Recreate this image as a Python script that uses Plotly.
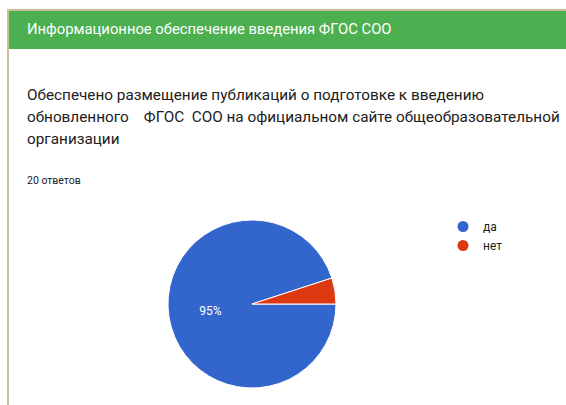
import plotly.graph_objects as go

# ---- data ----
header_title = "Информационное обеспечение введения ФГОС СОО"
question_lines = [
    "Обеспечено размещение публикаций о подготовке к введению",
    "обновленного    ФГОС  СОО на официальном сайте общеобразовательной",
    "организации",
]
responses_label = "20 ответов"
categories = ["да", "нет"]
counts = [19, 1]
slice_colors = ["#3366cc", "#dc3912"]

W, H = 566, 405


def px(x):
    return x / W


def py(y):
    return 1 - y / H


fig = go.Figure()

# pie
cx, cy, r = 252, 304, 84
fig.add_trace(go.Pie(
    labels=categories,
    values=counts,
    sort=False,
    direction="clockwise",
    rotation=90,
    marker=dict(colors=slice_colors, line=dict(color="white", width=1)),
    texttemplate=["%{percent:.0%}", ""],
    textposition="inside",
    insidetextorientation="horizontal",
    insidetextfont=dict(color="white", size=12, family="Roboto"),
    showlegend=False,
    hoverinfo="label+percent",
    domain=dict(x=[px(cx - r), px(cx + r)], y=[py(cy + r), py(cy - r)]),
))

# legend entries with round markers
for cat, col in zip(categories, slice_colors):
    fig.add_trace(go.Scatter(
        x=[None], y=[None], mode="markers", name=cat,
        marker=dict(color=col, size=11, symbol="circle"),
        showlegend=True,
    ))

shapes = [
    # tan frame lines
    dict(type="rect", xref="paper", yref="paper", x0=px(7), x1=px(9), y0=py(H), y1=py(9),
         fillcolor="#c8bf95", line=dict(width=0), layer="below"),
    dict(type="rect", xref="paper", yref="paper", x0=px(7), x1=px(W), y0=py(11), y1=py(9),
         fillcolor="#c8bf95", line=dict(width=0), layer="below"),
    # green header
    dict(type="rect", xref="paper", yref="paper", x0=px(9), x1=px(W), y0=py(49), y1=py(11),
         fillcolor="#4caf50", line=dict(width=0), layer="below"),
]

annotations = [
    dict(text=header_title, x=px(25), y=py(29), xref="paper", yref="paper",
         xanchor="left", yanchor="middle", showarrow=False,
         font=dict(family="Roboto", size=14.8, color="white")),
    dict(text=responses_label, x=px(25), y=py(181), xref="paper", yref="paper",
         xanchor="left", yanchor="middle", showarrow=False,
         font=dict(family="Roboto", size=10.5, color="#212121")),
]
line_y = [95, 117, 139]
for t, yy in zip(question_lines, line_y):
    annotations.append(dict(text=t, x=px(25), y=py(yy), xref="paper", yref="paper",
                            xanchor="left", yanchor="middle", showarrow=False,
                            font=dict(family="Roboto", size=15.3, color="#212121")))

fig.update_layout(
    width=W, height=H,
    margin=dict(l=0, r=0, t=0, b=0),
    paper_bgcolor="white", plot_bgcolor="white",
    xaxis=dict(visible=False, domain=[0, 0.01]),
    yaxis=dict(visible=False, domain=[0, 0.01]),
    shapes=shapes,
    annotations=annotations,
    legend=dict(x=px(443), y=py(212), xanchor="left", yanchor="top",
                font=dict(family="Roboto", size=12, color="#212121"),
                bgcolor="rgba(0,0,0,0)", itemwidth=30, tracegroupgap=0),
)

fig.write_html("out.html")
